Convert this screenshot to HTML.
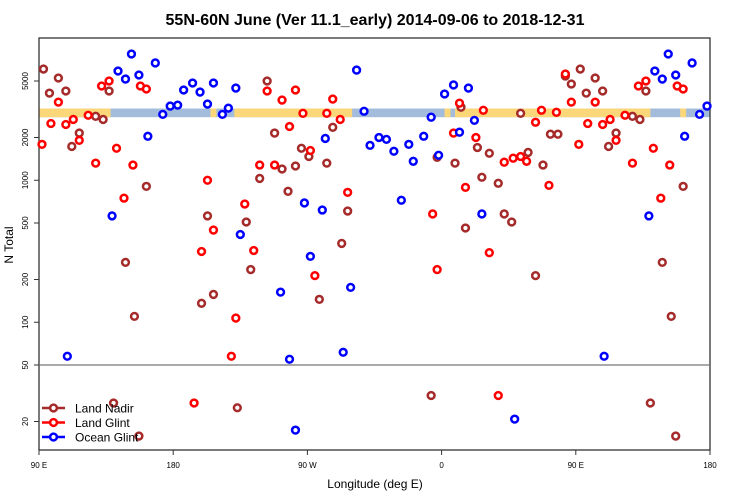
<!DOCTYPE html>
<html><head><meta charset="utf-8"><style>
body{margin:0;background:#fff;}
svg{display:block;font-family:"Liberation Sans",sans-serif;}
</style></head><body>
<svg id="chart" width="750" height="500">
<text x="375" y="25" text-anchor="middle" font-size="16" font-weight="bold">55N-60N June (Ver 11.1_early)   2014-09-06 to 2018-12-31</text>
<text x="375" y="488" text-anchor="middle" font-size="12">Longitude (deg E)</text>
<text x="0" y="0" transform="translate(13,245) rotate(-90)" text-anchor="middle" font-size="12">N Total</text>
<g id="band"></g>
<g id="axes"></g>
<g id="marks"></g>
<g id="legend"></g>
</svg>
<script>
const nadirLon=[93,97,103,108,112,117,128,133,137,162,148,154,203,199,207,229,232,238,243,248,253,257,262,266,271,283,287,293,297,278,357,369,373,384,387,392,398,376,402,407,413,418,423,428,433,438,443,447,453,457,463,468,472,477,488,493,497,522,508,514,140,157,223,353,500,517];
const nadirVal=[6070,4110,5250,4250,1730,2150,2820,2680,4250,906,264,110,561,136,157,508,235,1030,5000,2150,1200,836,1260,1680,1470,1320,2360,359,607,145,1450,1320,3270,1700,1050,1550,952,461,579,508,2960,1570,213,1280,2110,2110,5420,4760,6070,4110,5250,4250,1730,2150,2820,2680,4250,906,264,110,27,15.8,25,30.5,27,15.8];
const glintLon=[92,98,103,108,113,117,123,132,137,128,142,147,153,158,162,203,207,199,228,234,222,219,238,243,253,262,267,258,248,272,283,287,292,297,275,354,357,368,372,376,388,383,392,402,408,413,417,423,427,432,437,443,447,452,458,463,468,473,477,483,492,497,488,502,507,513,518,522,194,398];
const glintVal=[1790,2510,3550,2470,2680,1910,2870,4610,5000,1320,1680,748,1280,4610,4390,1000,446,315,680,320,107,57.6,1280,4250,3670,4320,2960,2390,1280,1620,2960,3730,2680,822,213,579,235,2150,3490,891,3110,2000,309,1340,1430,1470,1360,2560,3110,920,3010,5600,3550,1790,2510,3550,2470,2680,1910,2870,4610,5000,1320,1680,748,1280,4610,4390,27,30.5];
const oceanLon=[109,139,143,148,152,157,163,168,173,178,183,187,193,198,203,207,213,217,222,225,252,258,268,280,272,282,294,299,303,308,312,318,323,328,338,341,348,333,353,358,362,368,378,372,382,387,469,499,503,508,512,517,523,528,533,538,262,409];
const oceanVal=[57.6,561,5880,5160,7745,5510,2040,6700,2910,3330,3380,4320,4840,4180,3440,4840,2910,3220,4460,415,163,54.9,692,617,291,1970,61.5,176,5970,3060,1760,2000,1940,1600,1790,1360,2040,723,2780,1500,4050,4690,4460,2180,2640,579,57.6,561,5880,5160,7745,5510,2040,6700,2910,3330,17.4,20.8];
const yTicks=[5000,2000,1000,500,200,100,50,20];
const xTickLon=[90,180,270,360,450,540];
const xTickLabels=["90 E","180","90 W","0","90 E","180"];
const landLon=[[90,138],[205,209],[221,300],[362,366],[369,500],[520,524]];
const NS="http://www.w3.org/2000/svg";
const X0=39,X1=710,Y0=38,Y1=450;
function xs(l){return X0+(l-90)*(X1-X0)/450;}
function ys(v){return 365-142*Math.log10(v/50);}
function mk(t,a,p){const e=document.createElementNS(NS,t);for(const k in a)e.setAttribute(k,a[k]);p.appendChild(e);return e;}
const band=document.getElementById('band');
const bt=ys(3200),bb=ys(2780);
let r=mk('rect',{x:X0,y:bt,width:X1-X0,height:bb-bt,fill:'#a4bcdc'},band);


landLon.forEach(s=>{const e=mk('rect',{x:xs(s[0]),y:bt,width:xs(s[1])-xs(s[0]),height:bb-bt,fill:'#fcd77a'},band);

});
const ax=document.getElementById('axes');
let f=mk('rect',{x:X0,y:Y0,width:X1-X0,height:Y1-Y0,fill:'none',stroke:'#333','stroke-width':1.3},ax);


let h=mk('line',{x1:X0,x2:X1,y1:ys(50),y2:ys(50),stroke:'#777','stroke-width':1.3},ax);


yTicks.forEach(v=>{const y=ys(v);
const t=mk('line',{x1:X0-5,x2:X0,y1:y,y2:y,stroke:'#333'},ax);


const tx=mk('text',{transform:`translate(${X0-11},${y}) rotate(-90)`,'text-anchor':'middle','font-size':8},ax);tx.textContent=v;

});
xTickLon.forEach((l,i)=>{const x=xs(l);
const t=mk('line',{x1:x,x2:x,y1:Y1,y2:Y1+5,stroke:'#333'},ax);


const tx=mk('text',{x:x,y:468,'text-anchor':'middle','font-size':8},ax);tx.textContent=xTickLabels[i];

});
const marks=document.getElementById('marks');
function series(L,V,col,name){L.forEach((l,i)=>{const c=mk('circle',{cx:xs(l),cy:ys(V[i]),r:3.4,fill:'#fff',stroke:col,'stroke-width':2.5},marks);

});}
series(nadirLon,nadirVal,'#a52a2a','land-nadir-point');
series(glintLon,glintVal,'#ff0000','land-glint-point');
series(oceanLon,oceanVal,'#0000ff','ocean-glint-point');
const lg=document.getElementById('legend');
[['Land Nadir','#a52a2a'],['Land Glint','#ff0000'],['Ocean Glint','#0000ff']].forEach((d,i)=>{const y=408+i*14.5;
const g=mk('g',{},lg);


mk('line',{x1:42,x2:65,y1:y,y2:y,stroke:d[1],'stroke-width':2.5},g);
mk('circle',{cx:53.5,cy:y,r:3.4,fill:'#fff',stroke:d[1],'stroke-width':2.5},g);
const t=mk('text',{x:75,y:y+4.5,'font-size':12},g);t.textContent=d[0];});
</script>
</body></html>
